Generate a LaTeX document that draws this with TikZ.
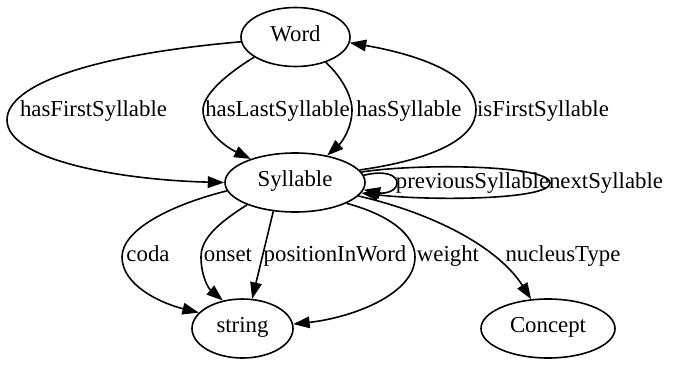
\documentclass[tikz,border=0pt]{standalone}
\usepackage{fontspec}
\setmainfont{Liberation Serif}
\usetikzlibrary{arrows.meta,shapes.geometric}
\begin{document}
\begin{tikzpicture}[x=0.5pt,y=-0.5pt,
  every node/.style={font=\fontsize{11.4pt}{13pt}\selectfont},
  cls/.style={draw, ellipse, line width=0.8pt, inner sep=0pt, minimum height=29.5pt,
    text height=0.66em, text depth=0.22em},
  lbl/.style={inner sep=0pt, anchor=base},
  edge/.style={line width=0.8pt, -{Triangle[length=8.2pt,width=5.8pt]}}]
\path[use as bounding box] (0,0) rectangle (700,365);

% classes
\node[cls, minimum width=54.5pt] (Word)     at (295.5,37)  {Word};
\node[cls, minimum width=70pt]   (Syllable) at (295,182.5) {Syllable};
\node[cls, minimum width=50.5pt] (string)   at (242.5,328.5) {string};
\node[cls, minimum width=67pt]   (Concept)  at (548,328.5) {Concept};

% Word -> Syllable
\draw[edge] (Word.185) .. controls (90,55) and (7,85) .. (7,120)
  .. controls (7,160) and (120,180) .. (Syllable.west);
\node[lbl] (lFirst) at (93.5,116) {hasFirstSyllable};

\draw[edge] (Word.206) .. controls (225,75) and (203,95) .. (203,110)
  .. controls (203,128) and (222,145) .. (Syllable.152);
\node[lbl] (lLast) at (277.5,116) {hasLastSyllable};

\draw[edge] (Word.320) .. controls (340,75) and (352,95) .. (352,110)
  .. controls (352,128) and (342,142) .. (Syllable.40);
\node[lbl] (lHas) at (409,116) {hasSyllable};

% Syllable -> Word
\draw[edge] (Syllable.11) .. controls (430,160) and (476,140) .. (476,110)
  .. controls (476,75) and (420,55) .. (Word.354);
\node[lbl] (lIsFirst) at (543,116) {isFirstSyllable};

% self loops on Syllable
\draw[edge] (Syllable.6) .. controls (385,170) and (397,175) .. (397,183)
  .. controls (397,191) and (385,194) .. (Syllable.-6);
\node[lbl] (lPrev) at (472.5,188) {previousSyllable};

\draw[edge] (Syllable.9) .. controls (420,163) and (550,165) .. (550,183)
  .. controls (550,200) and (430,201) .. (Syllable.-9);
\node[lbl] (lNext) at (606,188) {nextSyllable};

% Syllable -> string
\draw[edge] (Syllable.187) .. controls (170,205) and (122,230) .. (122,257)
  .. controls (122,285) and (160,303) .. (string.160);
\node[lbl] (lCoda) at (148,261) {coda};

\draw[edge] (Syllable.205) .. controls (215,225) and (201,240) .. (201,257)
  .. controls (201,275) and (208,288) .. (string.125);
\node[lbl] (lOnset) at (228,261) {onset};

\draw[edge] (Syllable.233) -- (string.72);
\node[lbl] (lPos) at (335,261) {positionInWord};

\draw[edge] (Syllable.338) .. controls (390,215) and (415,235) .. (415,257)
  .. controls (415,295) and (350,318) .. (string.5);
\node[lbl] (lWeight) at (448,261) {weight};

% Syllable -> Concept
\draw[edge] (Syllable.348) .. controls (440,215) and (500,250) .. (Concept.120);
\node[lbl] (lNucleus) at (563,261) {nucleusType};
\end{tikzpicture}
\end{document}
